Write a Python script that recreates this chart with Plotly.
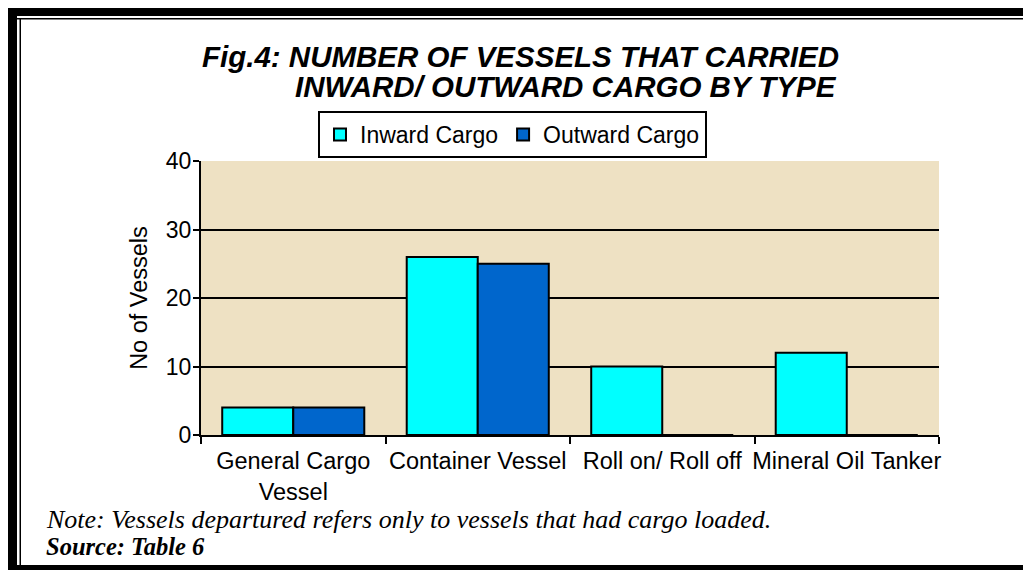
import plotly.graph_objects as go

categories = ["General Cargo<br>Vessel", "Container Vessel", "Roll on/ Roll off", "Mineral Oil Tanker"]
inward = [4, 26, 10, 12]
outward = [4, 25, 0, 0]
series_names = ["Inward Cargo", "Outward Cargo"]
y_ticks = [0, 10, 20, 30, 40]

# page body has an 8px margin; measure in screen pixels, convert to figure pixels
OFF = 8
W, H = 1031 - 2 * OFF, 570 - OFF
L, R, T, B = 201 - OFF, 939 - OFF, 161 - OFF, 435 - OFF


def px(x):
    return (x - OFF - L) / (R - L)


def py(y):
    return (B - (y - OFF)) / (B - T)


fig = go.Figure()
fig.add_trace(go.Bar(x=categories, y=inward, name=series_names[0],
                     marker=dict(color="#00FFFF", line=dict(color="black", width=2))))
fig.add_trace(go.Bar(x=categories, y=outward, name=series_names[1],
                     marker=dict(color="#0066CC", line=dict(color="black", width=2))))

sans = "Liberation Sans, Arial, sans-serif"
serif = "Liberation Serif, Times New Roman, serif"

shapes = []
def rect(x0, y0, x1, y1):
    shapes.append(dict(type="rect", xref="paper", yref="paper",
                       x0=px(x0), x1=px(x1), y0=py(y1), y1=py(y0),
                       fillcolor="black", line=dict(width=0), layer="above"))

rect(8, 8, 1031, 16)
rect(8, 18, 1031, 19.5)
rect(8, 8, 17, 570)
rect(19.5, 18, 21, 566)
rect(8, 565, 1031, 570)

annotations = [
    dict(text="<b><i>Fig.4: NUMBER OF VESSELS THAT CARRIED</i></b>", x=px(841), y=py(56),
         xref="paper", yref="paper", xanchor="right", yanchor="middle", showarrow=False,
         font=dict(family=sans, size=29.5, color="black")),
    dict(text="<b><i>INWARD/ OUTWARD CARGO BY TYPE</i></b>", x=px(839), y=py(86),
         xref="paper", yref="paper", xanchor="right", yanchor="middle", showarrow=False,
         font=dict(family=sans, size=29.5, color="black")),
    dict(text="<i>Note: Vessels departured refers only to vessels that had cargo loaded.</i>",
         x=px(44), y=py(519), xref="paper", yref="paper", xanchor="left", yanchor="middle",
         showarrow=False, font=dict(family=serif, size=26, color="black")),
    dict(text="<b><i>Source: Table 6</i></b>",
         x=px(44), y=py(546), xref="paper", yref="paper", xanchor="left", yanchor="middle",
         showarrow=False, font=dict(family=serif, size=24.5, color="black")),
]

fig.update_layout(
    width=W, height=H,
    margin=dict(l=L, r=W - R, t=T, b=H - B, autoexpand=False),
    paper_bgcolor="white",
    plot_bgcolor="#EEE1C3",
    barmode="group", bargap=0.23, bargroupgap=0,
    font=dict(family=sans, size=23, color="black"),
    showlegend=True,
    legend=dict(orientation="h", x=px(318), y=py(111), xanchor="left", yanchor="top",
                bordercolor="black", borderwidth=2, bgcolor="white",
                font=dict(family=sans, size=23, color="black"),
                itemclick=False, traceorder="normal"),
    shapes=shapes,
    annotations=annotations,
)

fig.update_xaxes(type="category", showline=True, linecolor="black", linewidth=2,
                 ticks="outside", tickson="boundaries", ticklen=7, tickwidth=2, tickcolor="black",
                 tickangle=0, ticklabelstandoff=4, showgrid=False,
                 tickfont=dict(family=sans, size=23.5, color="black"))
fig.update_yaxes(range=[0, 40], tickvals=y_ticks, showline=True, linecolor="black", linewidth=2,
                 ticks="outside", ticklen=6, tickwidth=2, tickcolor="black",
                 ticklabelstandoff=-3,
                 showgrid=True, gridcolor="black", gridwidth=1.5, zeroline=False,
                 tickfont=dict(family=sans, size=23, color="black"),
                 title=dict(text="No of Vessels", font=dict(family=sans, size=23.5, color="black"),
                            standoff=12))

fig.write_html("out.html",
               post_script="document.documentElement.style.overflow='hidden';"
                           "document.body.style.overflow='hidden';")
